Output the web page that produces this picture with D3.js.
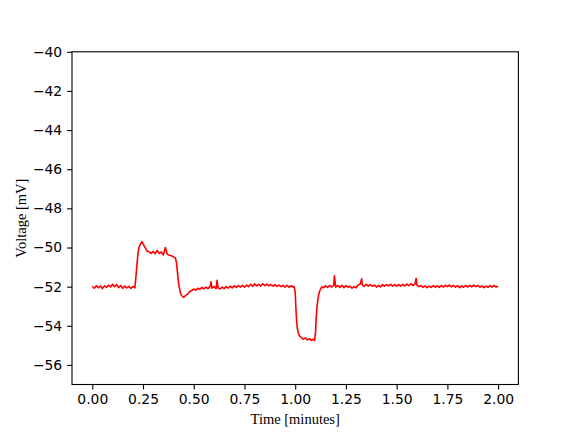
<!DOCTYPE html>
<html><head><meta charset="utf-8">
<script src="https://cdn.jsdelivr.net/npm/d3@7"></script>
<style>body{margin:0;background:#fff}svg{display:block}</style>
</head><body><svg id="c" width="576" height="432"></svg>
<script>
const timeMin = [0.00,0.01,0.02,0.03,0.04,0.05,0.06,0.07,0.08,0.09,0.10,0.11,0.12,0.13,0.14,0.15,0.16,0.17,0.18,0.19,0.20,0.21,0.215,0.22,0.225,0.23,0.235,0.24,0.245,0.25,0.255,0.26,0.265,0.27,0.28,0.29,0.30,0.31,0.32,0.33,0.34,0.35,0.36,0.37,0.38,0.39,0.40,0.41,0.415,0.42,0.425,0.43,0.435,0.44,0.45,0.46,0.47,0.48,0.49,0.50,0.51,0.52,0.53,0.54,0.55,0.56,0.57,0.58,0.585,0.59,0.60,0.61,0.615,0.62,0.63,0.64,0.65,0.66,0.67,0.68,0.69,0.70,0.71,0.72,0.73,0.74,0.75,0.76,0.77,0.78,0.79,0.80,0.81,0.82,0.83,0.84,0.85,0.86,0.87,0.88,0.89,0.90,0.91,0.92,0.93,0.94,0.95,0.96,0.97,0.98,0.99,0.995,1.00,1.003,1.006,1.01,1.015,1.02,1.03,1.04,1.05,1.06,1.07,1.08,1.09,1.095,1.10,1.103,1.107,1.11,1.115,1.12,1.125,1.13,1.14,1.15,1.16,1.17,1.18,1.19,1.193,1.20,1.21,1.22,1.23,1.24,1.25,1.26,1.27,1.28,1.29,1.30,1.31,1.32,1.328,1.33,1.34,1.35,1.36,1.37,1.38,1.39,1.40,1.41,1.42,1.43,1.44,1.45,1.46,1.47,1.48,1.49,1.50,1.51,1.52,1.53,1.54,1.55,1.56,1.57,1.58,1.59,1.596,1.60,1.61,1.62,1.63,1.64,1.65,1.66,1.67,1.68,1.69,1.70,1.71,1.72,1.73,1.74,1.75,1.76,1.77,1.78,1.79,1.80,1.81,1.82,1.83,1.84,1.85,1.86,1.87,1.88,1.89,1.90,1.91,1.92,1.93,1.94,1.95,1.96,1.97,1.98,1.99,2.00];
const voltageMV = [-51.98,-52.08,-51.95,-52.06,-51.97,-52.10,-51.96,-52.04,-51.92,-52.02,-51.88,-52.00,-51.90,-52.05,-51.94,-52.08,-51.97,-52.07,-51.98,-52.09,-51.99,-52.06,-51.5,-50.9,-50.3,-50.0,-49.88,-49.78,-49.70,-49.80,-49.90,-50.00,-50.08,-50.18,-50.22,-50.30,-50.20,-50.32,-50.15,-50.30,-50.22,-50.38,-50.00,-50.35,-50.40,-50.42,-50.48,-50.55,-50.8,-51.3,-51.8,-52.1,-52.35,-52.45,-52.55,-52.45,-52.38,-52.25,-52.20,-52.12,-52.18,-52.08,-52.14,-52.04,-52.12,-52.02,-52.10,-52.00,-51.75,-52.08,-52.00,-52.10,-51.68,-52.06,-52.12,-52.02,-52.10,-52.00,-52.08,-51.98,-52.06,-51.96,-52.04,-51.94,-52.02,-51.93,-52.03,-51.92,-52.00,-51.88,-51.98,-51.86,-51.96,-51.88,-51.97,-51.85,-51.95,-51.87,-51.96,-51.89,-51.98,-51.90,-51.99,-51.92,-52.00,-51.94,-52.02,-51.93,-52.03,-51.95,-52.02,-52.0,-52.3,-53.0,-53.6,-54.1,-54.35,-54.5,-54.6,-54.68,-54.62,-54.72,-54.66,-54.75,-54.68,-54.76,-54.4,-53.7,-53.1,-52.8,-52.45,-52.25,-52.12,-52.02,-52.05,-51.96,-52.04,-51.94,-52.02,-51.95,-51.45,-52.03,-51.94,-52.04,-51.93,-52.05,-51.95,-52.03,-51.98,-52.08,-52.00,-52.06,-51.92,-51.88,-51.6,-51.90,-51.98,-51.88,-51.97,-51.89,-51.98,-51.92,-52.02,-51.93,-52.01,-51.90,-51.98,-51.89,-51.96,-51.88,-51.97,-51.90,-51.98,-51.89,-51.97,-51.88,-51.96,-51.87,-51.95,-51.86,-51.94,-51.87,-51.58,-51.92,-52.00,-51.94,-52.04,-51.96,-52.05,-51.97,-52.04,-51.95,-52.03,-51.96,-52.04,-51.94,-52.02,-51.93,-52.00,-51.92,-52.01,-51.94,-52.03,-51.95,-52.05,-51.96,-52.03,-51.94,-52.02,-51.93,-52.01,-51.92,-52.00,-51.94,-52.03,-51.96,-52.05,-51.97,-52.04,-51.95,-52.03,-51.94,-52.02,-51.98];
const xTicks = [0,0.25,0.5,0.75,1.0,1.25,1.5,1.75,2.0];
const yTicks = [-56,-54,-52,-50,-48,-46,-44,-42,-40];
const xLabel = "Time [minutes]";
const yLabel = "Voltage [mV]";

const svg = d3.select("#c");
const L = 72, R = 518.4, T = 51.8, B = 384.5;
const x = d3.scaleLinear().domain([-0.1, 2.1]).range([L, R]);
const y = d3.scaleLinear().domain([-57, -40]).range([B, T]);

const data = timeMin.map((t, i) => [t, voltageMV[i]]);
svg.append("path")
  .attr("d", d3.line().x(d => x(d[0])).y(d => y(d[1]))(data))
  .attr("fill", "none").attr("stroke", "#ff0000").attr("stroke-width", 1.6)
  .attr("stroke-linejoin", "round");

const tickFont = "'DejaVu Sans', sans-serif";
const xa = svg.append("g").attr("transform", `translate(0,${B})`)
  .call(d3.axisBottom(x).tickValues(xTicks).tickFormat(d3.format(".2f")).tickSize(4.9).tickPadding(4.9));
const ya = svg.append("g").attr("transform", `translate(${L},0)`)
  .call(d3.axisLeft(y).tickValues(yTicks).tickFormat(d => d3.format("d")(d).replace("-", "\u2212")).tickSize(4.9).tickPadding(4.9));
[xa, ya].forEach(a => {
  a.select(".domain").remove();
  a.selectAll("line").attr("stroke", "#000").attr("stroke-width", 1.1);
  a.selectAll("text").attr("fill", "#000").style("font-family", tickFont).style("font-size", "13.9px");
});

svg.append("rect").attr("x", L).attr("y", T).attr("width", R - L).attr("height", B - T)
  .attr("fill", "none").attr("stroke", "#000").attr("stroke-width", 1.1);

svg.append("text").attr("x", (L + R) / 2).attr("y", 424).attr("text-anchor", "middle")
  .style("font-family", "'Liberation Serif', serif").style("font-size", "14.5px").text(xLabel);
svg.append("text").attr("transform", `translate(26,${(T + B) / 2}) rotate(-90)`).attr("text-anchor", "middle")
  .style("font-family", "'Liberation Serif', serif").style("font-size", "14.5px").text(yLabel);
</script></body></html>
